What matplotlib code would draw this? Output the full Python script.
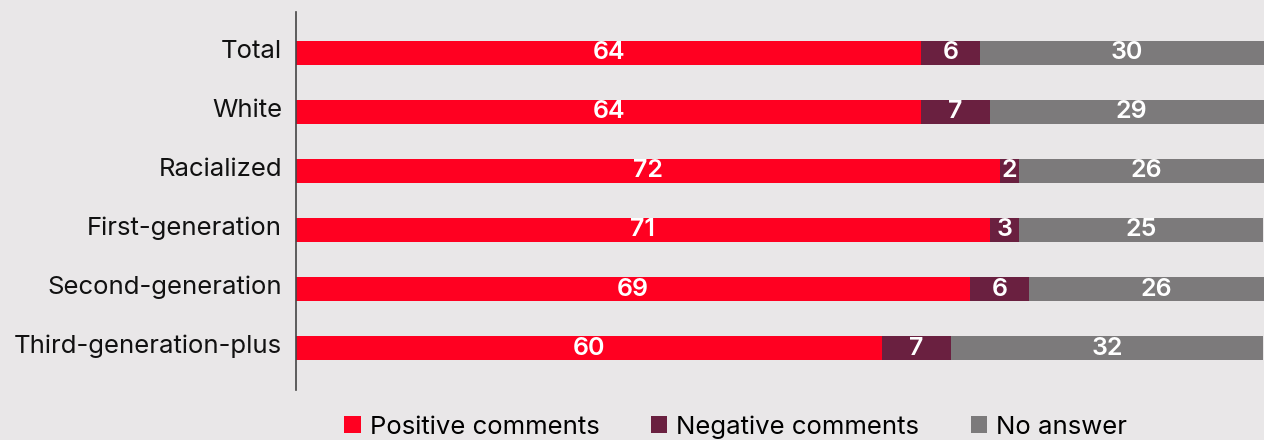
import numpy as np
import matplotlib.pyplot as plt
from matplotlib.patches import Patch
from matplotlib.transforms import ScaledTranslation

plt.rcParams['font.family'] = ['Inter', 'DejaVu Sans']

groups = ["Total", "White", "Racialized", "First-generation",
          "Second-generation", "Third-generation-plus"]
positive = [64, 64, 72, 71, 69, 60]
negative = [6, 7, 2, 3, 6, 7]
no_answer = [30, 29, 26, 25, 26, 32]

series = ["Positive comments", "Negative comments", "No answer"]
colors = ["#FF0021", "#6A2040", "#7C7A7B"]
bg = "#E9E7E8"

fig = plt.figure(figsize=(12.64, 4.4), dpi=100, facecolor=bg)
ax = fig.add_axes([0.2342, 0.1136, 0.773, 0.859], facecolor=bg)

y = np.arange(len(groups))
left = np.zeros(len(groups))
for vals, c in zip([positive, negative, no_answer], colors):
    vals = np.array(vals)
    ax.barh(y, vals, left=left, height=0.41, color=c)
    for yi, l, v in zip(y, left, vals):
        ax.text(l + v / 2, yi, str(v), ha="center", va="center",
                color="white", fontsize=18, fontweight="semibold")
    left = left + vals

ax.set_xlim(0, 100)
ax.set_ylim(5.71, -0.69)
ax.set_yticks(y)
ax.set_yticklabels(groups, fontsize=18.5, color="#111111")
ax.tick_params(axis="y", length=0, pad=10)
# labels sit a little above the bar centres in the original
shift = ScaledTranslation(0, 4 / 100, fig.dpi_scale_trans)
for lab in ax.get_yticklabels():
    lab.set_transform(lab.get_transform() + shift)
ax.set_xticks([])
for s in ["top", "right", "bottom"]:
    ax.spines[s].set_visible(False)
ax.spines["left"].set_color("#444444")
ax.spines["left"].set_linewidth(1.2)

handles = [Patch(facecolor=c, label=s) for s, c in zip(series, colors)]
fig.legend(handles=handles, loc="center", bbox_to_anchor=(0.582, 0.03),
           ncol=3, frameon=False, fontsize=18.5, handlelength=0.65,
           handleheight=0.65, handletextpad=0.35, columnspacing=2.0)

fig.savefig("out.png", dpi=100, facecolor=bg)
